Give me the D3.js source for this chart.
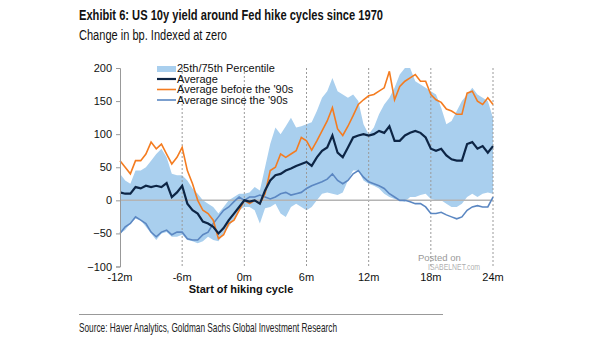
<!DOCTYPE html>
<html>
<head>
<meta charset="utf-8">
<script src="https://cdn.jsdelivr.net/npm/d3@7"></script>
<style>
  body { margin: 0; background: #fff; }
  svg { display: block; }
  text { font-family: "Liberation Sans", Arial, sans-serif; }
</style>
</head>
<body>
<div id="chart"></div>
<script>
// months relative to the first hike, half-month steps
var months = d3.range(-12, 24.01, 0.5);

var p75 = [40, 30, 25, 45, 45, 50, 60, 70, 78, 65, 40, 38, 38, 30, 18, 10, 0, -5, -10, -20, -10, 0, 5, 10,
  10, 12, 20, 15, 50, 85, 110, 100, 112, 125, 110, 112, 115, 118, 135, 155, 165, 185, 165, 160, 155, 160, 150, 115,
  100, 110, 130, 145, 155, 170, 190, 200, 200, 180, 175, 170, 165, 160, 140, 115, 120, 135, 150, 160, 170, 160, 155, 150, 125];

var p25 = [-50, -45, -35, -28, -30, -40, -50, -60, -50, -48, -55, -55, -52, -60, -62, -65, -62, -55, -60, -62, -50, -40, -28, -15,
  -10, -10, -15, -35, -12, -10, -5, -20, -25, -10, -5, -10, -15, -10, 0, 10, 12, 10, 8, 12, 30, 45, 45, 30,
  25, 22, 18, 10, 5, 2, 0, -2, 5, 5, 8, 10, 2, 0, 0, -5, -10, -10, -5, 5, 10, 5, 10, 12, 10];

var average = [12, 10, 10, 20, 18, 22, 20, 22, 20, 26, 5, 12, 22, -5, -15, -20, -32, -35, -40, -50, -42, -30, -20, -10,
  0, -2, 0, -5, 15, 30, 38, 40, 45, 48, 52, 55, 58, 52, 65, 75, 80, 98, 72, 65, 80, 95, 98, 100,
  98, 100, 105, 102, 112, 90, 90, 98, 102, 105, 102, 95, 78, 75, 78, 68, 62, 60, 60, 85, 88, 78, 82, 72, 82];

var before90s = [60, 50, 40, 60, 60, 70, 88, 78, 85, 70, 55, 65, 80, 45, 25, 0, -15, -20, -30, -58, -52, -35, -30, -15,
  0, -5, 0, -5, 10, 45, 50, 70, 65, 70, 75, 95, 90, 76, 90, 105, 120, 140, 108, 98, 112, 128, 145, 152,
  158, 160, 165, 170, 195, 152, 172, 180, 185, 190, 180, 180, 160, 152, 148, 138, 135, 130, 130, 162, 165, 150, 145, 155, 145];

var since90s = [-50, -40, -35, -25, -30, -35, -48, -55, -48, -45, -52, -48, -48, -58, -60, -60, -52, -48, -35, -25, -15, -10, -2, 5,
  0, 5, 5, 8, 5, 2, 5, 10, 12, 8, 10, 12, 18, 22, 25, 28, 32, 40, 30, 25, 30, 40, 45, 35,
  28, 25, 22, 18, 10, 5, 0, 0, -2, -5, -5, -10, -20, -20, -18, -22, -25, -28, -25, -15, -10, -8, -10, -10, 5];

var yTicks = [200, 150, 100, 50, 0, -50, -100];
var xTicks = [-12, -6, 0, 6, 12, 18, 24];
var gridMonths = [-6, 0, 6, 12, 18, 24];

var legendItems = [
  { label: "25th/75th Percentile", type: "band", color: "#a9cfee" },
  { label: "Average", type: "line", color: "#0d2545" },
  { label: "Average before the '90s", type: "line", color: "#f47c20" },
  { label: "Average since the '90s", type: "line", color: "#5b87c2" }
];

var width = 605, height = 341;

var svg = d3.select("#chart").append("svg")
  .attr("width", width)
  .attr("height", height);

var x = d3.scaleLinear().domain([-12, 24]).range([120, 493]);
var y = d3.scaleLinear().domain([-100, 200]).range([266.5, 68]);

var rows = months.map(function(m, i) {
  return { m: m, lo: p25[i], hi: p75[i], avg: average[i], pre: before90s[i], post: since90s[i] };
});

// title block, squeezed to look like a condensed face
svg.append("text")
  .attr("x", 79).attr("y", 20)
  .attr("font-size", "15.5px").attr("font-weight", "bold").attr("fill", "#111")
  .attr("textLength", 304).attr("lengthAdjust", "spacingAndGlyphs")
  .text("Exhibit 6: US 10y yield around Fed hike cycles since 1970");

svg.append("text")
  .attr("x", 79).attr("y", 40)
  .attr("font-size", "14px").attr("fill", "#111")
  .attr("textLength", 148).attr("lengthAdjust", "spacingAndGlyphs")
  .text("Change in bp. Indexed at zero");

// percentile band
svg.append("path")
  .datum(rows)
  .attr("fill", "#a9cfee")
  .attr("d", d3.area()
    .x(function(d) { return x(d.m); })
    .y0(function(d) { return y(d.lo); })
    .y1(function(d) { return y(d.hi); }));

// vertical dotted guides
svg.selectAll(".grid").data(gridMonths).enter().append("line")
  .attr("x1", function(d) { return x(d); })
  .attr("x2", function(d) { return x(d); })
  .attr("y1", y(200)).attr("y2", y(-100))
  .attr("stroke", "#9a9a9a").attr("stroke-width", 1)
  .attr("stroke-dasharray", "2,2");

// zero line
svg.append("line")
  .attr("x1", x(-12)).attr("x2", x(24))
  .attr("y1", y(0)).attr("y2", y(0))
  .attr("stroke", "#b4b4b4").attr("stroke-width", 1.5);

function line(key) {
  return d3.line()
    .x(function(d) { return x(d.m); })
    .y(function(d) { return y(d[key]); });
}

svg.append("path").datum(rows)
  .attr("fill", "none").attr("stroke", "#5b87c2").attr("stroke-width", 1.6)
  .attr("d", line("post"));

svg.append("path").datum(rows)
  .attr("fill", "none").attr("stroke", "#f47c20").attr("stroke-width", 1.6)
  .attr("d", line("pre"));

svg.append("path").datum(rows)
  .attr("fill", "none").attr("stroke", "#0d2545").attr("stroke-width", 2.2)
  .attr("d", line("avg"));

// y axis
var yAxis = d3.axisLeft(y).tickValues(yTicks).tickSize(4).tickPadding(4);
var gy = svg.append("g")
  .attr("transform", "translate(" + x(-12) + ",0)")
  .call(yAxis);
gy.select(".domain").attr("stroke", "#999");
gy.selectAll(".tick line").attr("stroke", "#999");
gy.selectAll(".tick text")
  .attr("font-family", "Liberation Sans, Arial, sans-serif")
  .attr("font-size", "11px").attr("fill", "#111");

// x tick labels
svg.selectAll(".xlab").data(xTicks).enter().append("text")
  .attr("x", function(d) { return x(d); })
  .attr("y", 281)
  .attr("text-anchor", "middle")
  .attr("font-size", "11px").attr("fill", "#111")
  .text(function(d) { return d + "m"; });

svg.append("text")
  .attr("x", 241).attr("y", 293)
  .attr("text-anchor", "middle")
  .attr("font-size", "11px").attr("font-weight", "bold").attr("fill", "#111")
  .text("Start of hiking cycle");

// legend
var leg = svg.append("g").attr("transform", "translate(157,72)");
legendItems.forEach(function(item, i) {
  var g = leg.append("g").attr("transform", "translate(0," + (i * 10.5) + ")");
  if (item.type === "band") {
    g.append("rect").attr("x", 0).attr("y", -6).attr("width", 19).attr("height", 6).attr("fill", item.color);
  } else {
    g.append("line").attr("x1", 0).attr("x2", 19).attr("y1", -3.5).attr("y2", -3.5)
      .attr("stroke", item.color).attr("stroke-width", i === 1 ? 2.2 : 1.6);
  }
  g.append("text")
    .attr("x", 20).attr("y", 0)
    .attr("font-size", "11px").attr("fill", "#111")
    .text(item.label);
});

// watermark
svg.append("text")
  .attr("x", 418).attr("y", 261)
  .attr("font-size", "9.5px").attr("fill", "#999")
  .text("Posted on");
svg.append("text")
  .attr("x", 428).attr("y", 270)
  .attr("font-size", "9px").attr("fill", "#999").attr("fill-opacity", 0.8)
  .attr("textLength", 52).attr("lengthAdjust", "spacingAndGlyphs")
  .text("ISABELNET.com");

// footer
svg.append("line")
  .attr("x1", 79).attr("x2", 443).attr("y1", 314.5).attr("y2", 314.5)
  .attr("stroke", "#999").attr("stroke-width", 1);

svg.append("text")
  .attr("x", 79).attr("y", 332)
  .attr("font-size", "13px").attr("fill", "#222")
  .attr("textLength", 258).attr("lengthAdjust", "spacingAndGlyphs")
  .text("Source: Haver Analytics, Goldman Sachs Global Investment Research");
</script>
</body>
</html>
